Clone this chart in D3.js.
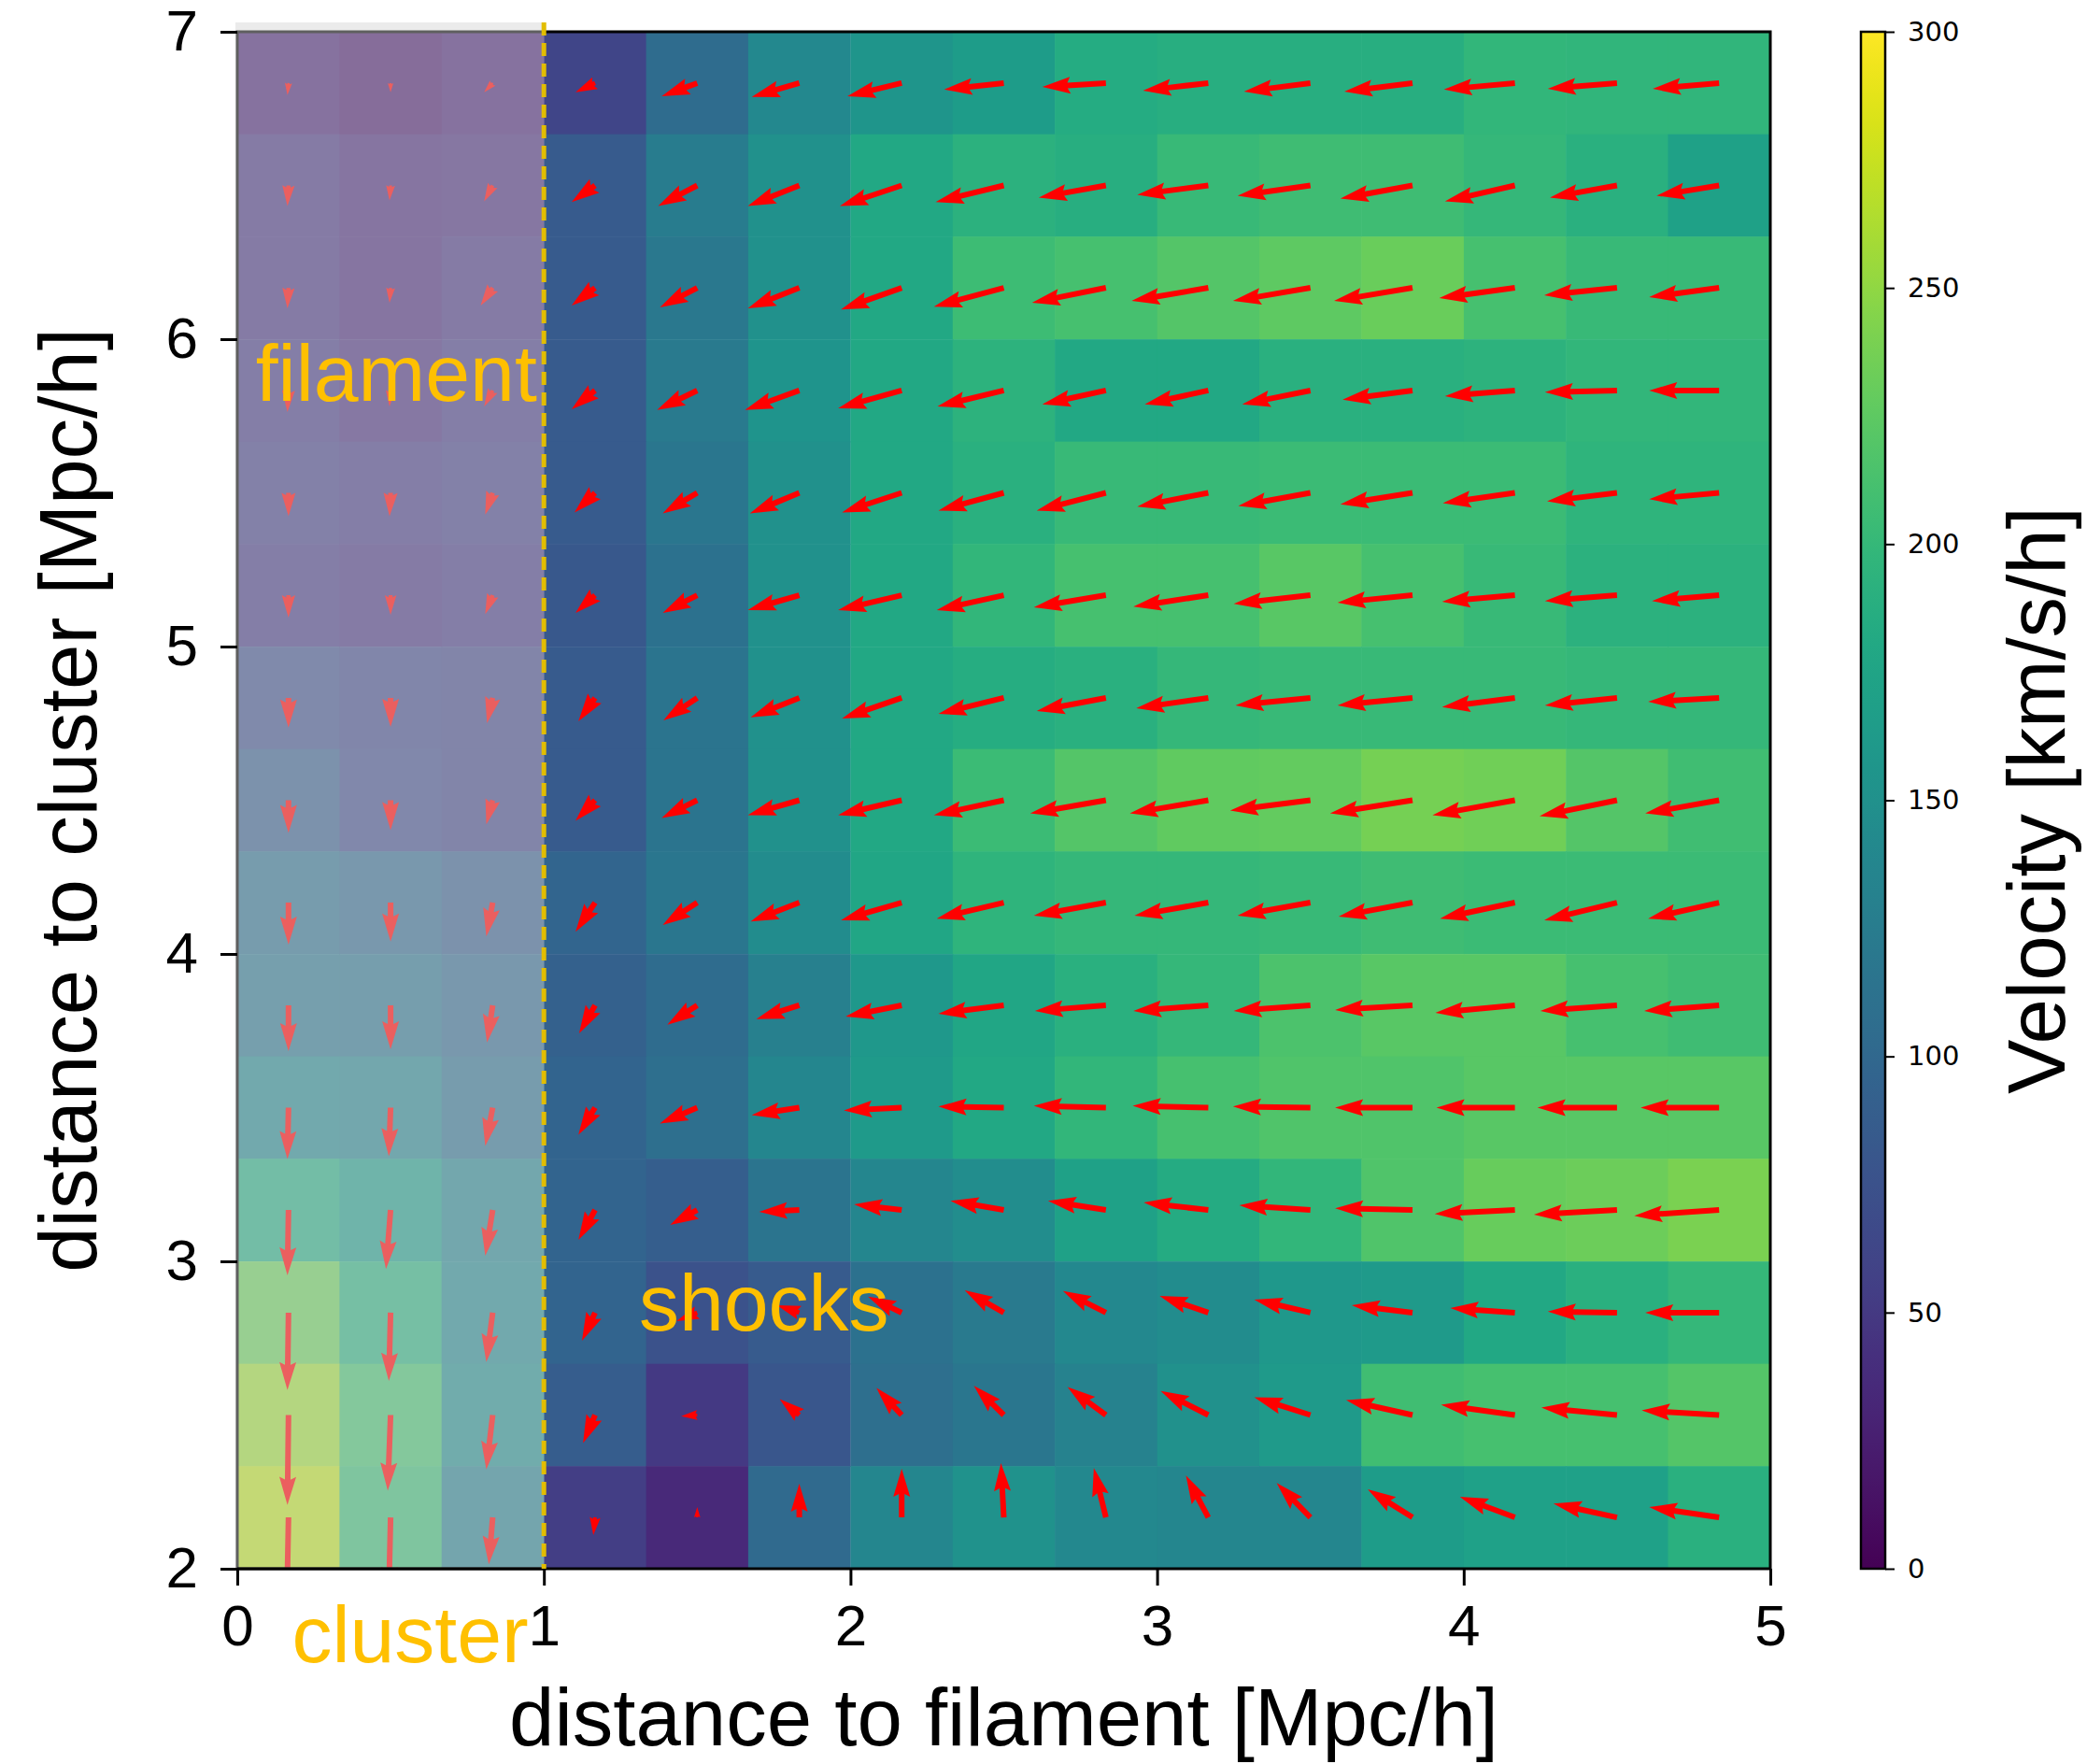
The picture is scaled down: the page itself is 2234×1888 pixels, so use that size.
<!DOCTYPE html>
<html>
<head>
<meta charset="utf-8">
<script src="https://cdn.jsdelivr.net/npm/d3@7"></script>
<style>
  body { margin: 0; background: #fff; }
  svg { display: block; }
</style>
</head>
<body>
<svg id="chart"></svg>
<script>
// velocity field around a cluster/filament junction
var width = 2234
var height = 1888

// cell centres (Mpc/h)
var xCenters = [0.167, 0.5, 0.833, 1.167, 1.5, 1.833, 2.167, 2.5, 2.833, 3.167, 3.5, 3.833, 4.167, 4.5, 4.833]
var yCenters = [6.833, 6.5, 6.167, 5.833, 5.5, 5.167, 4.833, 4.5, 4.167, 3.833, 3.5, 3.167, 2.833, 2.5, 2.167]
var binSize = 1 / 3

// velocity magnitude per cell [km/s/h], top row first
var speed = [
  [30, 20, 30, 62, 105, 140, 157, 165, 185, 188, 188, 188, 198, 196, 196],
  [45, 35, 38, 85, 125, 150, 180, 192, 188, 202, 207, 207, 200, 190, 172],
  [45, 35, 45, 85, 120, 150, 180, 206, 212, 220, 225, 232, 212, 202, 202],
  [50, 40, 50, 85, 122, 155, 180, 193, 180, 180, 190, 190, 193, 197, 197],
  [55, 50, 55, 85, 118, 150, 180, 190, 202, 202, 205, 205, 205, 195, 195],
  [50, 45, 50, 82, 112, 150, 180, 197, 212, 212, 222, 212, 202, 192, 192],
  [72, 65, 62, 85, 115, 150, 180, 186, 190, 200, 202, 202, 202, 200, 200],
  [88, 68, 62, 85, 115, 150, 180, 204, 220, 227, 228, 237, 235, 220, 208],
  [110, 100, 88, 97, 118, 145, 178, 195, 200, 200, 202, 207, 205, 205, 205],
  [118, 115, 100, 92, 105, 130, 160, 178, 190, 200, 215, 222, 222, 212, 207],
  [140, 135, 110, 95, 108, 138, 162, 180, 197, 212, 217, 217, 222, 222, 222],
  [185, 165, 135, 95, 88, 115, 138, 146, 172, 183, 197, 217, 230, 233, 240],
  [232, 190, 140, 95, 75, 85, 112, 122, 140, 145, 160, 162, 180, 190, 200],
  [255, 210, 145, 87, 50, 80, 108, 118, 132, 150, 162, 208, 212, 212, 220],
  [268, 205, 130, 55, 35, 102, 138, 152, 140, 138, 138, 165, 170, 170, 190]
]

// velocity components [km/s/h], vx along filament distance, vy along cluster distance
var vx = [
  [-3, 0, -24, -55, -100, -134, -153, -168, -179, -184, -187, -192, -200, -195, -187],
  [-3, -3, -24, -66, -110, -145, -174, -192, -189, -200, -205, -203, -197, -189, -176],
  [-3, -3, -34, -66, -105, -145, -171, -197, -208, -216, -218, -221, -213, -205, -197],
  [-3, -3, -24, -66, -113, -153, -179, -187, -179, -179, -192, -197, -197, -203, -197],
  [0, -3, -21, -58, -97, -139, -168, -184, -195, -200, -203, -203, -203, -197, -197],
  [0, 0, -21, -55, -97, -145, -179, -189, -203, -211, -216, -211, -205, -203, -189],
  [0, 0, -16, -47, -95, -137, -168, -184, -195, -203, -211, -211, -205, -203, -200],
  [0, 0, -18, -55, -100, -145, -179, -197, -213, -221, -226, -232, -232, -218, -208],
  [0, 0, -18, -55, -97, -137, -171, -189, -203, -208, -205, -208, -211, -205, -200],
  [0, 0, -16, -45, -84, -121, -158, -184, -200, -211, -216, -218, -224, -216, -211],
  [-3, -5, -21, -47, -105, -134, -163, -184, -203, -213, -218, -218, -221, -224, -221],
  [-3, -13, -21, -47, -76, -113, -134, -150, -163, -182, -200, -218, -226, -234, -239],
  [-3, -5, -18, -37, -58, -63, -95, -110, -121, -137, -158, -171, -182, -195, -208],
  [-3, -8, -18, -34, -45, -55, -71, -84, -108, -134, -158, -187, -208, -213, -218],
  [-5, -5, -11, -5, 0, 0, 0, -8, -34, -63, -95, -126, -155, -179, -197]
]
var vy = [
  [-34, -26, -26, -26, -37, -39, -37, -18, -11, -21, -24, -24, -18, -16, -16],
  [-58, -42, -45, -47, -58, -58, -58, -47, -34, -26, -29, -37, -45, -34, -29],
  [-58, -42, -50, -50, -55, -58, -61, -53, -42, -37, -37, -37, -29, -21, -26],
  [-61, -45, -45, -53, -55, -55, -50, -45, -39, -39, -39, -26, -16, -5, 0],
  [-66, -66, -61, -55, -58, -58, -55, -50, -50, -39, -37, -32, -29, -24, -18],
  [-63, -55, -53, -50, -50, -42, -42, -42, -34, -32, -24, -21, -18, -16, -16],
  [-84, -82, -71, -66, -63, -55, -58, -45, -37, -29, -21, -21, -26, -21, -11],
  [-92, -84, -68, -58, -50, -42, -42, -42, -37, -37, -29, -37, -42, -45, -37],
  [-118, -110, -95, -82, -63, -53, -50, -45, -37, -37, -37, -39, -45, -50, -45],
  [-129, -124, -105, -79, -55, -39, -32, -24, -16, -16, -16, -13, -21, -16, -16],
  [-145, -137, -108, -76, -45, -21, -8, 3, 5, 5, 3, 0, 0, 0, 0],
  [-184, -166, -129, -84, -42, -5, 16, 26, 26, 21, 13, 5, -11, -13, -16],
  [-218, -192, -139, -79, -24, 21, 45, 63, 61, 47, 37, 21, 13, 3, 0],
  [-253, -213, -153, -79, -3, 45, 76, 82, 79, 68, 50, 42, 29, 21, 13],
  [-263, -218, -132, -50, 29, 95, 137, 153, 139, 118, 97, 79, 58, 39, 29]
]

var xTicks = [0, 1, 2, 3, 4, 5]
var yTicks = [2, 3, 4, 5, 6, 7]
var cTicks = [0, 50, 100, 150, 200, 250, 300]

var labels = [
  { text: 'filament', x: 0.06, y: 5.8 },
  { text: 'shocks', x: 1.31, y: 2.775 },
  { text: 'cluster', x: 0.178, y: 1.696 }
]

var plotLeft = 254, plotRight = 1895, plotTop = 34, plotBottom = 1679

var xScale = d3.scaleLinear().domain([0, 5]).range([plotLeft, plotRight])
var yScale = d3.scaleLinear().domain([2, 7]).range([plotBottom, plotTop])
var cScale = d3.scaleLinear().domain([0, 300]).range([plotBottom, plotTop])
var color = d3.scaleSequential(d3.interpolateViridis).domain([0, 300])
// quiver scale: arrow length in px per km/s/h
var lenScale = d3.scaleLinear().domain([0, 300]).range([0, 114])

var svg = d3.select('#chart')
  .attr('width', width)
  .attr('height', height)
  .style('font-family', '"Liberation Sans", Arial, sans-serif')

svg.append('rect').attr('width', width).attr('height', height).attr('fill', '#fff')

svg.append('clipPath').attr('id', 'plotClip')
  .append('rect')
  .attr('x', plotLeft).attr('y', plotTop)
  .attr('width', plotRight - plotLeft).attr('height', plotBottom - plotTop)

var plot = svg.append('g').attr('clip-path', 'url(#plotClip)')

// flatten grid
var cells = []
speed.forEach(function (row, r) {
  row.forEach(function (v, c) {
    cells.push({ r: r, c: c, v: v, vx: vx[r][c], vy: vy[r][c] })
  })
})

plot.selectAll('rect.cell')
  .data(cells)
  .enter()
  .append('rect')
    .attr('class', 'cell')
    .attr('x', d => xScale(xCenters[d.c] - binSize / 2))
    .attr('y', d => yScale(yCenters[d.r] + binSize / 2))
    .attr('width', d => xScale(xCenters[d.c] + binSize / 2) - xScale(xCenters[d.c] - binSize / 2) + 0.5)
    .attr('height', d => yScale(yCenters[d.r] - binSize / 2) - yScale(yCenters[d.r] + binSize / 2) + 0.5)
    .attr('fill', d => color(d.v))

// matplotlib-style quiver arrow, tail at the cell centre
function arrowPath(L) {
  var w = 6, hl = 30, hal = 27, hw = 18
  var k = 1, len = L
  if (L < hl) { k = L / hl; len = hl }
  var pts = [[0, -w / 2], [len - hal, -w / 2], [len - hl, -hw / 2], [len, 0],
             [len - hl, hw / 2], [len - hal, w / 2], [0, w / 2]]
  return 'M' + pts.map(p => (p[0] * k).toFixed(2) + ',' + (p[1] * k).toFixed(2)).join('L') + 'Z'
}

plot.selectAll('path.arrow')
  .data(cells)
  .enter()
  .append('path')
    .attr('class', 'arrow')
    .attr('d', d => arrowPath(lenScale(Math.hypot(d.vx, d.vy))))
    .attr('transform', d => 'translate(' + xScale(xCenters[d.c]) + ',' + yScale(yCenters[d.r]) + ') rotate(' +
      (Math.atan2(-d.vy, d.vx) * 180 / Math.PI) + ')')
    .attr('fill', '#ff0000')

// spines
svg.append('rect')
  .attr('x', plotLeft).attr('y', plotTop)
  .attr('width', plotRight - plotLeft).attr('height', plotBottom - plotTop)
  .attr('fill', 'none')
  .attr('stroke', '#000')
  .attr('stroke-width', 3)

// shaded cluster region
svg.append('rect')
  .attr('x', xScale(0) - 2)
  .attr('y', yScale(7) - 10)
  .attr('width', xScale(1) - xScale(0) + 2)
  .attr('height', yScale(2) - yScale(7) + 10)
  .attr('fill', '#d3d3d3')
  .attr('fill-opacity', 0.45)

svg.append('line')
  .attr('x1', xScale(0)).attr('x2', xScale(1))
  .attr('y1', plotBottom).attr('y2', plotBottom)
  .attr('stroke', '#000').attr('stroke-width', 3)

svg.append('line')
  .attr('x1', xScale(1)).attr('x2', xScale(1))
  .attr('y1', yScale(7) - 10).attr('y2', yScale(2))
  .attr('stroke', '#e2bd00')
  .attr('stroke-width', 5)
  .attr('stroke-dasharray', '14,8')

// axes
var xAxis = svg.append('g')
  .attr('transform', 'translate(0,' + plotBottom + ')')
  .call(d3.axisBottom(xScale).tickValues(xTicks).tickFormat(d3.format('d')).tickSize(18).tickPadding(20))
var yAxis = svg.append('g')
  .attr('transform', 'translate(' + plotLeft + ',0)')
  .call(d3.axisLeft(yScale).tickValues(yTicks).tickFormat(d3.format('d')).tickSize(18).tickPadding(24))

;[xAxis, yAxis].forEach(function (g) {
  g.select('.domain').remove()
  g.selectAll('line').attr('stroke', '#000').attr('stroke-width', 3)
  g.selectAll('text')
    .attr('fill', '#000')
    .style('font-size', '62px')
    .style('font-family', '"Liberation Sans", Arial, sans-serif')
})

svg.append('text')
  .attr('x', (plotLeft + plotRight) / 2)
  .attr('y', 1868)
  .attr('text-anchor', 'middle')
  .style('font-size', '87px')
  .text('distance to filament [Mpc/h]')

svg.append('text')
  .attr('transform', 'translate(103,' + (plotTop + plotBottom) / 2 + ') rotate(-90)')
  .attr('text-anchor', 'middle')
  .style('font-size', '87px')
  .text('distance to cluster [Mpc/h]')

// region labels
svg.selectAll('text.region')
  .data(labels)
  .enter()
  .append('text')
    .attr('class', 'region')
    .attr('x', d => xScale(d.x))
    .attr('y', d => yScale(d.y))
    .attr('fill', '#ffc000')
    .style('font-size', '86px')
    .text(d => d.text)

// colorbar
var cbX = 1992, cbW = 26
var grad = svg.append('defs').append('linearGradient')
  .attr('id', 'viridisGrad')
  .attr('x1', 0).attr('x2', 0).attr('y1', 1).attr('y2', 0)
grad.selectAll('stop')
  .data(d3.range(0, 1.0001, 0.02))
  .enter()
  .append('stop')
    .attr('offset', d => d)
    .attr('stop-color', d => d3.interpolateViridis(d))

svg.append('rect')
  .attr('x', cbX).attr('y', cScale(300))
  .attr('width', cbW).attr('height', cScale(0) - cScale(300))
  .attr('fill', 'url(#viridisGrad)')
  .attr('stroke', '#000')
  .attr('stroke-width', 2.5)

var cAxis = svg.append('g')
  .attr('transform', 'translate(' + (cbX + cbW) + ',0)')
  .call(d3.axisRight(cScale).tickValues(cTicks).tickSize(10).tickPadding(14))
cAxis.select('.domain').remove()
cAxis.selectAll('line').attr('stroke', '#000').attr('stroke-width', 2)
cAxis.selectAll('text')
  .attr('fill', '#000')
  .style('font-size', '29px')
  .style('font-family', '"DejaVu Sans", sans-serif')

svg.append('text')
  .attr('transform', 'translate(2210,' + (plotTop + plotBottom) / 2 + ') rotate(-90)')
  .attr('text-anchor', 'middle')
  .style('font-size', '87px')
  .text('Velocity [km/s/h]')
</script>
</body>
</html>
